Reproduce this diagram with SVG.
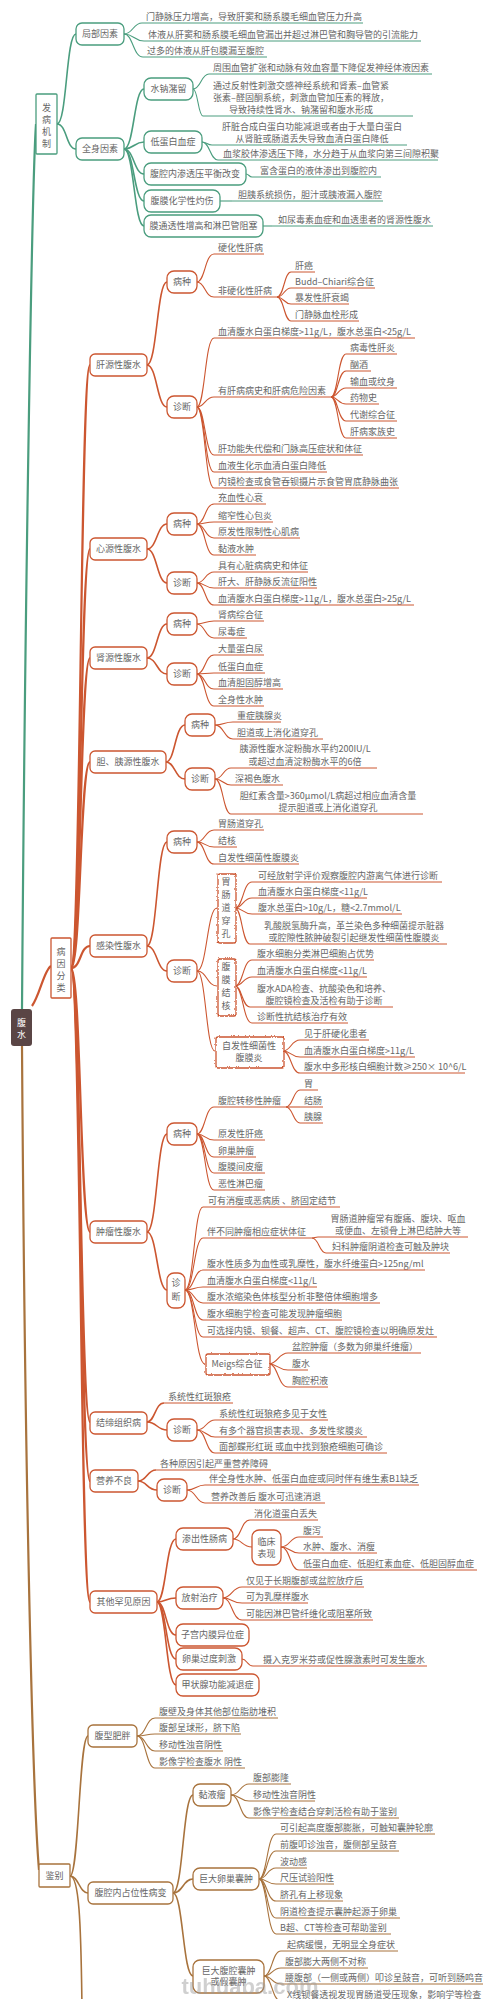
<svg xmlns="http://www.w3.org/2000/svg" width="500" height="1999" viewBox="0 0 500 1999">
<style>
text{font-family:"Noto Sans CJK SC","Liberation Sans",sans-serif;font-size:9px;fill:#666}
.m{text-anchor:middle}
path{fill:none}
.bx rect{fill:#fff;stroke-width:1.3}
.G rect,.G path,.cg{stroke:#4a9d7e}
.O rect,.O path,.co{stroke:#cc5630}
.B rect,.B path,.cb{stroke:#a8733d}
.lf path{stroke-width:1}
.wv rect{filter:url(#wv)}
#conn .cg,#conn .co,#conn .cb{stroke-width:1.1}
#conn .w1{stroke-width:2.2}
#conn .w2{stroke-width:1.6}
</style>
<defs>
<filter id="wv" x="-20%" y="-20%" width="140%" height="140%">
<feTurbulence type="turbulence" baseFrequency="0.45" numOctaves="1" seed="3" result="n"/>
<feDisplacementMap in="SourceGraphic" in2="n" scale="2.6" xChannelSelector="R" yChannelSelector="G"/>
</filter>
</defs>
<rect width="500" height="1999" fill="#fff"/>
<g id="conn">
<path class="cg w1" d="M22,1009 C25,600 32,180 36,124"/>
<path class="cg w2" d="M57,124 C67,124 66,34 76,34"/>
<path class="cg w2" d="M57,124 C67,124 66,149 76,149"/>
<path class="cg" d="M124,34 C133,34 133,23 142,23"/>
<path class="cg" d="M124,34 C134,34 134,41 144,41"/>
<path class="cg" d="M124,34 C133,34 133,57 143,57"/>
<path class="cg w2" d="M124,149 C134,149 134,89 144,89"/>
<path class="cg w2" d="M124,149 C134,149 134,142 144,142"/>
<path class="cg w2" d="M124,149 C134,149 134,174 144,174"/>
<path class="cg w2" d="M124,149 C134,149 134,201 144,201"/>
<path class="cg w2" d="M124,149 C134,149 134,226 144,226"/>
<path class="cg" d="M193,89 C201,89 201,74 209,74"/>
<path class="cg" d="M193,89 C198,89 198,116 203,116"/>
<path class="cg" d="M202,142 C207,142 207,145 212,145"/>
<path class="cg" d="M202,142 C210,142 210,160 218,160"/>
<path class="cg" d="M246,174 C249,174 249,177 252,177"/>
<path class="cg" d="M220,201 H232"/>
<path class="cg" d="M263,226 H272"/>

<path class="co w1" d="M32,1006 C40,995 44,970 51,966"/>
<path class="co w1" d="M71,968 C81,968 80,365 90,365"/>
<path class="co w1" d="M71,968 C81,968 80,549 90,549"/>
<path class="co w1" d="M71,968 C81,968 80,658 90,658"/>
<path class="co w1" d="M71,968 C81,968 80,762 90,762"/>
<path class="co w1" d="M71,968 C81,968 80,946 90,946"/>
<path class="co w1" d="M71,968 C81,968 80,1232 90,1232"/>
<path class="co w1" d="M71,968 C81,968 80,1422 90,1422"/>
<path class="co w1" d="M71,968 C81,968 80,1481 90,1481"/>
<path class="co w1" d="M71,968 C81,968 80,1602 90,1602"/>

<path class="co w2" d="M147,365 C157,365 157,282 167,282"/>
<path class="co w2" d="M147,365 C157,365 157,407 167,407"/>
<path class="co" d="M197,282 C205,282 205,254 214,254"/>
<path class="co" d="M197,282 C205,282 205,297 214,297"/>
<path class="co" d="M277,297 C284,297 284,272 291,272"/>
<path class="co" d="M277,297 C284,297 284,288 291,288"/>
<path class="co" d="M277,297 C284,297 284,304 291,304"/>
<path class="co" d="M277,297 C284,297 284,321 291,321"/>
<path class="co" d="M197,407 C205,407 205,338 214,338"/>
<path class="co" d="M197,407 C205,407 205,397 214,397"/>
<path class="co" d="M197,407 C205,407 205,455 214,455"/>
<path class="co" d="M197,407 C205,407 205,472 214,472"/>
<path class="co" d="M197,407 C205,407 205,488 214,488"/>
<path class="co" d="M331,397 C338,397 338,354 346,354"/>
<path class="co" d="M331,397 C338,397 338,371 346,371"/>
<path class="co" d="M331,397 C338,397 338,388 346,388"/>
<path class="co" d="M331,397 C338,397 338,404 346,404"/>
<path class="co" d="M331,397 C338,397 338,421 346,421"/>
<path class="co" d="M331,397 C338,397 338,438 346,438"/>

<path class="co w2" d="M147,549 C157,549 157,524 167,524"/>
<path class="co w2" d="M147,549 C157,549 157,583 167,583"/>
<path class="co" d="M197,524 C205,524 205,504 214,504"/>
<path class="co" d="M197,524 C205,524 205,522 214,522"/>
<path class="co" d="M197,524 C205,524 205,538 214,538"/>
<path class="co" d="M197,524 C205,524 205,555 214,555"/>
<path class="co" d="M197,583 C205,583 205,572 214,572"/>
<path class="co" d="M197,583 C205,583 205,588 214,588"/>
<path class="co" d="M197,583 C205,583 205,605 214,605"/>

<path class="co w2" d="M147,658 C157,658 157,624 167,624"/>
<path class="co w2" d="M147,658 C157,658 157,674 167,674"/>
<path class="co" d="M197,624 C205,624 205,621 214,621"/>
<path class="co" d="M197,624 C205,624 205,638 214,638"/>
<path class="co" d="M197,674 C205,674 205,655 214,655"/>
<path class="co" d="M197,674 C205,674 205,673 214,673"/>
<path class="co" d="M197,674 C205,674 205,689 214,689"/>
<path class="co" d="M197,674 C205,674 205,706 214,706"/>

<path class="co w2" d="M166,762 C175,762 175,725 185,725"/>
<path class="co w2" d="M166,762 C175,762 175,779 185,779"/>
<path class="co" d="M215,725 C224,725 224,722 233,722"/>
<path class="co" d="M215,725 C224,725 224,739 233,739"/>
<path class="co" d="M215,779 C223,779 223,768 231,768"/>
<path class="co" d="M215,779 C223,779 223,785 231,785"/>
<path class="co" d="M215,779 C223,779 223,814 231,814"/>

<path class="co w2" d="M147,946 C157,946 157,842 167,842"/>
<path class="co w2" d="M147,946 C157,946 157,971 167,971"/>
<path class="co" d="M197,842 C205,842 205,830 214,830"/>
<path class="co" d="M197,842 C205,842 205,847 214,847"/>
<path class="co" d="M197,842 C205,842 205,864 214,864"/>
<path class="co" d="M197,971 C207,971 207,908 217,908"/>
<path class="co" d="M197,971 C207,971 207,986 217,986"/>
<path class="co" d="M197,971 C206,971 206,1051 215,1051"/>
<path class="co" d="M235,908 C243,908 243,882 252,882"/>
<path class="co" d="M235,908 C243,908 243,898 252,898"/>
<path class="co" d="M235,908 C243,908 243,914 252,914"/>
<path class="co" d="M235,908 C242,908 242,944 250,944"/>
<path class="co" d="M235,986 C243,986 243,960 252,960"/>
<path class="co" d="M235,986 C243,986 243,977 252,977"/>
<path class="co" d="M235,986 C242,986 242,1007 250,1007"/>
<path class="co" d="M235,986 C243,986 243,1023 252,1023"/>
<path class="co" d="M283,1051 C291,1051 291,1040 300,1040"/>
<path class="co" d="M283,1051 C291,1051 291,1057 300,1057"/>
<path class="co" d="M283,1051 C291,1051 291,1073 300,1073"/>

<path class="co w2" d="M147,1232 C157,1232 157,1134 167,1134"/>
<path class="co w2" d="M147,1232 C157,1232 157,1290 167,1290"/>
<path class="co" d="M197,1134 C205,1134 205,1107 214,1107"/>
<path class="co" d="M197,1134 C205,1134 205,1140 214,1140"/>
<path class="co" d="M197,1134 C205,1134 205,1157 214,1157"/>
<path class="co" d="M197,1134 C205,1134 205,1173 214,1173"/>
<path class="co" d="M197,1134 C205,1134 205,1190 214,1190"/>
<path class="co" d="M286,1107 C293,1107 293,1090 300,1090"/>
<path class="co" d="M286,1107 H300"/>
<path class="co" d="M286,1107 C293,1107 293,1123 300,1123"/>
<path class="co" d="M185,1290 C194,1290 194,1207 203,1207"/>
<path class="co" d="M185,1290 C194,1290 194,1238 203,1238"/>
<path class="co" d="M185,1290 C194,1290 194,1270 203,1270"/>
<path class="co" d="M185,1290 C194,1290 194,1287 203,1287"/>
<path class="co" d="M185,1290 C194,1290 194,1303 203,1303"/>
<path class="co" d="M185,1290 C194,1290 194,1320 203,1320"/>
<path class="co" d="M185,1290 C194,1290 194,1337 203,1337"/>
<path class="co" d="M185,1290 C195,1290 195,1364 205,1364"/>
<path class="co" d="M312,1238 C315,1238 315,1237 318,1237"/>
<path class="co" d="M312,1238 C319,1238 319,1253 326,1253"/>
<path class="co" d="M269,1364 C278,1364 278,1353 288,1353"/>
<path class="co" d="M269,1364 C278,1364 278,1370 288,1370"/>
<path class="co" d="M269,1364 C278,1364 278,1387 288,1387"/>

<path class="co w2" d="M147,1422 C155,1422 155,1403 164,1403"/>
<path class="co w2" d="M147,1422 C157,1422 157,1430 167,1430"/>
<path class="co" d="M197,1430 C206,1430 206,1420 215,1420"/>
<path class="co" d="M197,1430 C206,1430 206,1437 215,1437"/>
<path class="co" d="M197,1430 C206,1430 206,1453 215,1453"/>

<path class="co w2" d="M138,1481 C147,1481 147,1470 156,1470"/>
<path class="co w2" d="M138,1481 C147,1481 147,1490 157,1490"/>
<path class="co" d="M187,1490 C196,1490 196,1485 205,1485"/>
<path class="co" d="M187,1490 C196,1490 196,1503 205,1503"/>

<path class="co w2" d="M157,1602 C166,1602 166,1539 176,1539"/>
<path class="co w2" d="M157,1602 C166,1602 166,1598 176,1598"/>
<path class="co w2" d="M157,1602 C166,1602 166,1635 176,1635"/>
<path class="co w2" d="M157,1602 C166,1602 166,1659 176,1659"/>
<path class="co w2" d="M157,1602 C166,1602 166,1685 176,1685"/>
<path class="co" d="M233,1539 C241,1539 241,1520 250,1520"/>
<path class="co" d="M233,1539 C242,1539 242,1547 252,1547"/>
<path class="co" d="M281,1547 C290,1547 290,1537 299,1537"/>
<path class="co" d="M281,1547 C290,1547 290,1553 299,1553"/>
<path class="co" d="M281,1547 C290,1547 290,1570 299,1570"/>
<path class="co" d="M223,1598 C232,1598 232,1587 242,1587"/>
<path class="co" d="M223,1598 C232,1598 232,1603 242,1603"/>
<path class="co" d="M223,1598 C232,1598 232,1620 242,1620"/>
<path class="co" d="M242,1659 C247,1659 247,1666 253,1666"/>

<path class="cb w1" d="M22,1046 C25,1500 33,1800 39,1870"/>
<path class="cb w2" d="M70,1876 C79,1876 79,1736 88,1736"/>
<path class="cb w2" d="M70,1876 C79,1876 79,1893 88,1893"/>
<path class="cb w2" d="M70,1876 C79,1876 81,1920 82,2010"/>
<path class="cb" d="M137,1736 C146,1736 146,1718 155,1718"/>
<path class="cb" d="M137,1736 C146,1736 146,1734 155,1734"/>
<path class="cb" d="M137,1736 C146,1736 146,1751 155,1751"/>
<path class="cb" d="M137,1736 C146,1736 146,1768 155,1768"/>
<path class="cb w2" d="M173,1893 C183,1893 183,1795 193,1795"/>
<path class="cb w2" d="M173,1893 C183,1893 183,1879 193,1879"/>
<path class="cb w2" d="M173,1893 C183,1893 183,1976 193,1976"/>
<path class="cb" d="M231,1795 C240,1795 240,1784 249,1784"/>
<path class="cb" d="M231,1795 C240,1795 240,1801 249,1801"/>
<path class="cb" d="M231,1795 C240,1795 240,1818 249,1818"/>
<path class="cb" d="M259,1879 C267,1879 267,1834 276,1834"/>
<path class="cb" d="M259,1879 C267,1879 267,1851 276,1851"/>
<path class="cb" d="M259,1879 C267,1879 267,1868 276,1868"/>
<path class="cb" d="M259,1879 C267,1879 267,1884 276,1884"/>
<path class="cb" d="M259,1879 C267,1879 267,1901 276,1901"/>
<path class="cb" d="M259,1879 C267,1879 267,1918 276,1918"/>
<path class="cb" d="M259,1879 C267,1879 267,1934 276,1934"/>
<path class="cb" d="M264,1976 C272,1976 272,1951 281,1951"/>
<path class="cb" d="M264,1976 C272,1976 272,1968 281,1968"/>
<path class="cb" d="M264,1976 C272,1976 272,1984 281,1984"/>
<path class="cb" d="M264,1976 C272,1976 272,2001 281,2001"/>
</g>

<g id="root"><rect x="11" y="1009" width="21" height="37" rx="3" fill="#5a4545"/><text class="m" x="21.5" style="fill:#fff"><tspan x="21.5" y="1025.5">腹</tspan><tspan x="21.5" y="1037.5">水</tspan></text></g>

<!-- green -->
<g id="fbjz" class="bx G"><rect x="36" y="94" width="21" height="60" rx="1"/><text class="m"><tspan x="46.5" y="110.5">发</tspan><tspan x="46.5" y="122.5">病</tspan><tspan x="46.5" y="134.5">机</tspan><tspan x="46.5" y="146.5">制</tspan></text></g>
<g id="jbys" class="bx G"><rect x="76" y="23" width="48" height="22" rx="6"/><text class="m" x="100" y="37.3">局部因素</text></g>
<g id="qsys" class="bx G"><rect x="76" y="138" width="48" height="22" rx="6"/><text class="m" x="100" y="152.3">全身因素</text></g>
<g id="snzl" class="bx G"><rect x="144" y="78" width="49" height="22" rx="7"/><text class="m" x="168.5" y="92.3">水钠潴留</text></g>
<g id="ddbxz" class="bx G"><rect x="144" y="131" width="58" height="22" rx="7"/><text class="m" x="173" y="145.3">低蛋白血症</text></g>
<g id="fqnstp" class="bx G"><rect x="144" y="163" width="102" height="22" rx="7"/><text class="m" x="195" y="177.3">腹腔内渗透压平衡改变</text></g>
<g id="fmhx" class="bx G"><rect x="144" y="190" width="76" height="22" rx="7"/><text class="m" x="182" y="204.3">腹膜化学性灼伤</text></g>
<g id="mttx" class="bx G"><rect x="144" y="215" width="119" height="22" rx="7"/><text class="m" x="203.5" y="229.3">膜通透性增高和淋巴管阻塞</text></g>
<g id="g1" class="lf G"><text x="146" y="20">门静脉压力增高，导致肝窦和肠系膜毛细血管压力升高</text><path d="M142,23 H363"/></g>
<g id="g2" class="lf G"><text x="148" y="38">体液从肝窦和肠系膜毛细血管漏出并超过淋巴管和胸导管的引流能力</text><path d="M144,41 H421"/></g>
<g id="g3" class="lf G"><text x="147" y="54">过多的体液从肝包膜漏至腹腔</text><path d="M143,57 H267"/></g>
<g id="g4" class="lf G"><text x="213" y="71">周围血管扩张和动脉有效血容量下降促发神经体液因素</text><path d="M209,74 H432"/></g>
<g id="g5" class="lf G"><text class="m"><tspan x="301" y="88.5">通过反射性刺激交感神经系统和肾素–血管紧</tspan><tspan x="301" y="100.5">张素–醛固酮系统，刺激血管加压素的释放，</tspan><tspan x="301" y="112.5">导致持续性肾水、钠潴留和腹水形成</tspan></text><path d="M203,116 H413"/></g>
<g id="g6" class="lf G"><text class="m"><tspan x="312" y="129.5">肝脏合成白蛋白功能减退或者由于大量白蛋白</tspan><tspan x="312" y="141.5">从肾脏或肠道丢失导致血清白蛋白降低</tspan></text><path d="M212,145 H407"/></g>
<g id="g7" class="lf G"><text x="223" y="157">血浆胶体渗透压下降，水分趋于从血浆向第三间隙积聚</text><path d="M218,160 H438"/></g>
<g id="g8" class="lf G"><text x="260" y="174">富含蛋白的液体渗出到腹腔内</text><path d="M252,177 H381"/></g>
<g id="g9" class="lf G"><text x="238" y="198">胆胰系统损伤，胆汁或胰液漏入腹腔</text><path d="M232,201 H383"/></g>
<g id="g10" class="lf G"><text x="278" y="223">如尿毒素血症和血透患者的肾源性腹水</text><path d="M272,226 H433"/></g>

<!-- orange boxes -->
<g id="byfl" class="bx O"><rect x="51" y="938" width="20" height="60" rx="1"/><text class="m"><tspan x="61" y="954.5">病</tspan><tspan x="61" y="966.5">因</tspan><tspan x="61" y="978.5">分</tspan><tspan x="61" y="990.5">类</tspan></text></g>
<g id="gy" class="bx O"><rect x="90" y="354" width="57" height="22" rx="5"/><text class="m" x="118.5" y="368.3">肝源性腹水</text></g>
<g id="gy_bz" class="bx O"><rect x="167" y="271" width="30" height="22" rx="7"/><text class="m" x="182" y="285.3">病种</text></g>
<g id="gy_zd" class="bx O"><rect x="167" y="396" width="30" height="22" rx="7"/><text class="m" x="182" y="410.3">诊断</text></g>
<g id="xy" class="bx O"><rect x="90" y="538" width="57" height="22" rx="5"/><text class="m" x="118.5" y="552.3">心源性腹水</text></g>
<g id="xy_bz" class="bx O"><rect x="167" y="513" width="30" height="22" rx="7"/><text class="m" x="182" y="527.3">病种</text></g>
<g id="xy_zd" class="bx O"><rect x="167" y="572" width="30" height="22" rx="7"/><text class="m" x="182" y="586.3">诊断</text></g>
<g id="sy" class="bx O"><rect x="90" y="647" width="57" height="22" rx="5"/><text class="m" x="118.5" y="661.3">肾源性腹水</text></g>
<g id="sy_bz" class="bx O"><rect x="167" y="613" width="30" height="22" rx="7"/><text class="m" x="182" y="627.3">病种</text></g>
<g id="sy_zd" class="bx O"><rect x="167" y="663" width="30" height="22" rx="7"/><text class="m" x="182" y="677.3">诊断</text></g>
<g id="dy" class="bx O"><rect x="90" y="751" width="76" height="22" rx="5"/><text class="m" x="128" y="765.3">胆、胰源性腹水</text></g>
<g id="dy_bz" class="bx O"><rect x="185" y="714" width="30" height="22" rx="7"/><text class="m" x="200" y="728.3">病种</text></g>
<g id="dy_zd" class="bx O"><rect x="185" y="768" width="30" height="22" rx="7"/><text class="m" x="200" y="782.3">诊断</text></g>
<g id="gr" class="bx O"><rect x="90" y="935" width="57" height="22" rx="5"/><text class="m" x="118.5" y="949.3">感染性腹水</text></g>
<g id="gr_bz" class="bx O"><rect x="167" y="831" width="30" height="22" rx="7"/><text class="m" x="182" y="845.3">病种</text></g>
<g id="gr_zd" class="bx O"><rect x="167" y="960" width="30" height="22" rx="7"/><text class="m" x="182" y="974.3">诊断</text></g>
<g id="wcdck" class="bx O wv"><rect x="217" y="873" width="18" height="69" rx="2"/><text class="m"><tspan x="226" y="885.3">胃</tspan><tspan x="226" y="898.3">肠</tspan><tspan x="226" y="911.3">道</tspan><tspan x="226" y="924.3">穿</tspan><tspan x="226" y="937.3">孔</tspan></text></g>
<g id="fmjh" class="bx O wv"><rect x="217" y="958" width="18" height="57" rx="2"/><text class="m"><tspan x="226" y="970.3">腹</tspan><tspan x="226" y="983.3">膜</tspan><tspan x="226" y="996.3">结</tspan><tspan x="226" y="1009.3">核</tspan></text></g>
<g id="zfx" class="bx O wv"><rect x="215" y="1036" width="68" height="31" rx="2"/><text class="m"><tspan x="249" y="1048.5">自发性细菌性</tspan><tspan x="249" y="1060.5">腹膜炎</tspan></text></g>
<g id="zl" class="bx O"><rect x="90" y="1221" width="57" height="22" rx="5"/><text class="m" x="118.5" y="1235.3">肿瘤性腹水</text></g>
<g id="zl_bz" class="bx O"><rect x="167" y="1123" width="30" height="22" rx="7"/><text class="m" x="182" y="1137.3">病种</text></g>
<g id="zl_zd" class="bx O"><rect x="167" y="1273" width="18" height="35" rx="7"/><text class="m"><tspan x="176" y="1286.3">诊</tspan><tspan x="176" y="1300.3">断</tspan></text></g>
<g id="meigs" class="bx O wv"><rect x="205" y="1353" width="64" height="21" rx="2"/><text class="m" x="237" y="1367.3">Meigs综合征</text></g>
<g id="jd" class="bx O"><rect x="90" y="1412" width="57" height="22" rx="5"/><text class="m" x="118.5" y="1426.3">结缔组织病</text></g>
<g id="jd_zd" class="bx O"><rect x="167" y="1419" width="30" height="22" rx="7"/><text class="m" x="182" y="1433.3">诊断</text></g>
<g id="yy" class="bx O"><rect x="90" y="1470" width="48" height="22" rx="5"/><text class="m" x="114" y="1484.3">营养不良</text></g>
<g id="yy_zd" class="bx O"><rect x="157" y="1479" width="30" height="22" rx="7"/><text class="m" x="172" y="1493.3">诊断</text></g>
<g id="qt" class="bx O"><rect x="90" y="1591" width="67" height="22" rx="5"/><text class="m" x="123.5" y="1605.3">其他罕见原因</text></g>
<g id="scx" class="bx O"><rect x="176" y="1528" width="57" height="22" rx="7"/><text class="m" x="204.5" y="1542.3">渗出性肠病</text></g>
<g id="lcbx" class="bx O"><rect x="252" y="1530" width="29" height="35" rx="7"/><text class="m"><tspan x="266.5" y="1545.3">临床</tspan><tspan x="266.5" y="1557.3">表现</tspan></text></g>
<g id="fszl" class="bx O"><rect x="176" y="1587" width="47" height="22" rx="7"/><text class="m" x="199.5" y="1601.3">放射治疗</text></g>
<g id="zgnm" class="bx O"><rect x="176" y="1624" width="73" height="22" rx="7"/><text class="m" x="212.5" y="1638.3">子宫内膜异位症</text></g>
<g id="lcgd" class="bx O"><rect x="176" y="1648" width="66" height="22" rx="7"/><text class="m" x="209" y="1662.3">卵巢过度刺激</text></g>
<g id="jzx" class="bx O"><rect x="176" y="1674" width="83" height="22" rx="7"/><text class="m" x="217.5" y="1688.3">甲状腺功能减退症</text></g>

<!-- orange leaves -->
<g id="o1" class="lf O"><text x="218" y="251">硬化性肝病</text><path d="M214,254 H264"/></g>
<g id="o2" class="lf O"><text x="218" y="294">非硬化性肝病</text><path d="M214,297 H277"/></g>
<g id="o3" class="lf O"><text x="295" y="269">肝癌</text><path d="M291,272 H315"/></g>
<g id="o4" class="lf O"><text x="295" y="285">Budd–Chiari综合征</text><path d="M291,288 H375"/></g>
<g id="o5" class="lf O"><text x="295" y="301">暴发性肝衰竭</text><path d="M291,304 H349"/></g>
<g id="o6" class="lf O"><text x="295" y="318">门静脉血栓形成</text><path d="M291,321 H359"/></g>
<g id="o7" class="lf O"><text x="218" y="335">血清腹水白蛋白梯度&gt;11g/L，腹水总蛋白&lt;25g/L</text><path d="M214,338 H415"/></g>
<g id="o8" class="lf O"><text x="218" y="394">有肝病病史和肝病危险因素</text><path d="M214,397 H331"/></g>
<g id="o9" class="lf O"><text x="350" y="351">病毒性肝炎</text><path d="M346,354 H397"/></g>
<g id="o10" class="lf O"><text x="350" y="368">酗酒</text><path d="M346,371 H371"/></g>
<g id="o11" class="lf O"><text x="350" y="385">输血或纹身</text><path d="M346,388 H397"/></g>
<g id="o12" class="lf O"><text x="350" y="401">药物史</text><path d="M346,404 H379"/></g>
<g id="o13" class="lf O"><text x="350" y="418">代谢综合征</text><path d="M346,421 H397"/></g>
<g id="o14" class="lf O"><text x="350" y="435">肝病家族史</text><path d="M346,438 H397"/></g>
<g id="o15" class="lf O"><text x="218" y="452">肝功能失代偿和门脉高压症状和体征</text><path d="M214,455 H363"/></g>
<g id="o16" class="lf O"><text x="218" y="469">血液生化示血清白蛋白降低</text><path d="M214,472 H327"/></g>
<g id="o17" class="lf O"><text x="218" y="485">内镜检查或食管吞钡摄片示食管胃底静脉曲张</text><path d="M214,488 H399"/></g>
<g id="o18" class="lf O"><text x="218" y="501">充血性心衰</text><path d="M214,504 H266"/></g>
<g id="o19" class="lf O"><text x="218" y="519">缩窄性心包炎</text><path d="M214,522 H273"/></g>
<g id="o20" class="lf O"><text x="218" y="535">原发性限制性心肌病</text><path d="M214,538 H300"/></g>
<g id="o21" class="lf O"><text x="218" y="552">黏液水肿</text><path d="M214,555 H256"/></g>
<g id="o22" class="lf O"><text x="218" y="569">具有心脏病病史和体征</text><path d="M214,572 H308"/></g>
<g id="o23" class="lf O"><text x="218" y="585">肝大、肝静脉反流征阳性</text><path d="M214,588 H317"/></g>
<g id="o24" class="lf O"><text x="218" y="602">血清腹水白蛋白梯度&gt;11g/L，腹水总蛋白&gt;25g/L</text><path d="M214,605 H414"/></g>
<g id="o25" class="lf O"><text x="218" y="618">肾病综合征</text><path d="M214,621 H264"/></g>
<g id="o26" class="lf O"><text x="218" y="635">尿毒症</text><path d="M214,638 H247"/></g>
<g id="o27" class="lf O"><text x="218" y="652">大量蛋白尿</text><path d="M214,655 H264"/></g>
<g id="o28" class="lf O"><text x="218" y="670">低蛋白血症</text><path d="M214,673 H265"/></g>
<g id="o29" class="lf O"><text x="218" y="686">血清胆固醇增高</text><path d="M214,689 H283"/></g>
<g id="o30" class="lf O"><text x="218" y="703">全身性水肿</text><path d="M214,706 H264"/></g>
<g id="o31" class="lf O"><text x="237" y="719">重症胰腺炎</text><path d="M233,722 H281"/></g>
<g id="o32" class="lf O"><text x="237" y="736">胆道或上消化道穿孔</text><path d="M233,739 H323"/></g>
<g id="o33" class="lf O"><text class="m"><tspan x="305" y="752.3">胰源性腹水淀粉酶水平约200IU/L</tspan><tspan x="305" y="765">或超过血清淀粉酶水平的6倍</tspan></text><path d="M231,768 H377"/></g>
<g id="o34" class="lf O"><text x="235" y="782">深褐色腹水</text><path d="M231,785 H283"/></g>
<g id="o35" class="lf O"><text class="m"><tspan x="328" y="799">胆红素含量&gt;360μmol/L病超过相应血清含量</tspan><tspan x="328" y="811">提示胆道或上消化道穿孔</tspan></text><path d="M231,814 H423"/></g>
<g id="o36" class="lf O"><text x="218" y="827">胃肠道穿孔</text><path d="M214,830 H264"/></g>
<g id="o37" class="lf O"><text x="218" y="844">结核</text><path d="M214,847 H237"/></g>
<g id="o38" class="lf O"><text x="218" y="861">自发性细菌性腹膜炎</text><path d="M214,864 H299"/></g>
<g id="o39" class="lf O"><text x="258" y="879">可经放射学评价观察腹腔内游离气体进行诊断</text><path d="M252,882 H442"/></g>
<g id="o40" class="lf O"><text x="258" y="895">血清腹水白蛋白梯度&lt;11g/L</text><path d="M252,898 H367"/></g>
<g id="o41" class="lf O"><text x="258" y="911">腹水总蛋白&gt;10g/L，糖&lt;2.7mmol/L</text><path d="M252,914 H402"/></g>
<g id="o42" class="lf O"><text class="m"><tspan x="354" y="928.5">乳酸脱氢酶升高，革兰染色多种细菌提示脏器</tspan><tspan x="354" y="941">或腔隙性脓肿破裂引起继发性细菌性腹膜炎</tspan></text><path d="M250,944 H447"/></g>
<g id="o43" class="lf O"><text x="257" y="957">腹水细胞分类淋巴细胞占优势</text><path d="M252,960 H374"/></g>
<g id="o44" class="lf O"><text x="257" y="974">血清腹水白蛋白梯度&lt;11g/L</text><path d="M252,977 H367"/></g>
<g id="o45" class="lf O"><text class="m"><tspan x="324" y="991.5">腹水ADA检查、抗酸染色和培养、</tspan><tspan x="324" y="1004">腹腔镜检查及活检有助于诊断</tspan></text><path d="M250,1007 H393"/></g>
<g id="o46" class="lf O"><text x="257" y="1020">诊断性抗结核治疗有效</text><path d="M252,1023 H348"/></g>
<g id="o47" class="lf O"><text x="304" y="1037">见于肝硬化患者</text><path d="M300,1040 H369"/></g>
<g id="o48" class="lf O"><text x="304" y="1054">血清腹水白蛋白梯度&gt;11g/L</text><path d="M300,1057 H415"/></g>
<g id="o49" class="lf O"><text x="304" y="1070">腹水中多形核白细胞计数≥250× 10^6/L</text><path d="M300,1073 H465"/></g>
<g id="o50" class="lf O"><text x="218" y="1104">腹腔转移性肿瘤</text><path d="M214,1107 H286"/></g>
<g id="o51" class="lf O"><text x="304" y="1087">胃</text><path d="M300,1090 H318"/></g>
<g id="o52" class="lf O"><text x="304" y="1104">结肠</text><path d="M300,1107 H323"/></g>
<g id="o53" class="lf O"><text x="304" y="1120">胰腺</text><path d="M300,1123 H323"/></g>
<g id="o54" class="lf O"><text x="218" y="1137">原发性肝癌</text><path d="M214,1140 H265"/></g>
<g id="o55" class="lf O"><text x="218" y="1154">卵巢肿瘤</text><path d="M214,1157 H256"/></g>
<g id="o56" class="lf O"><text x="218" y="1170">腹膜间皮瘤</text><path d="M214,1173 H265"/></g>
<g id="o57" class="lf O"><text x="218" y="1187">恶性淋巴瘤</text><path d="M214,1190 H265"/></g>
<g id="o58" class="lf O"><text x="208" y="1204">可有消瘦或恶病质 、脐固定结节</text><path d="M203,1207 H340"/></g>
<g id="o59" class="lf O"><text x="207" y="1235">伴不同肿瘤相应症状体征</text><path d="M203,1238 H312"/></g>
<g id="o60" class="lf O"><text class="m"><tspan x="398" y="1221.5">胃肠道肿瘤常有腹痛、腹块、呕血</tspan><tspan x="398" y="1234">或便血、左锁骨上淋巴结肿大等</tspan></text><path d="M318,1237 H468"/></g>
<g id="o61" class="lf O"><text x="332" y="1250">妇科肿瘤阴道检查可触及肿块</text><path d="M326,1253 H450"/></g>
<g id="o62" class="lf O"><text x="207" y="1267">腹水性质多为血性或乳糜性，腹水纤维蛋白&gt;125ng/ml</text><path d="M203,1270 H425"/></g>
<g id="o63" class="lf O"><text x="207" y="1284">血清腹水白蛋白梯度&lt;11g/L</text><path d="M203,1287 H317"/></g>
<g id="o64" class="lf O"><text x="207" y="1300">腹水浓缩染色体核型分析非整倍体细胞增多</text><path d="M203,1303 H380"/></g>
<g id="o65" class="lf O"><text x="207" y="1317">腹水细胞学检查可能发现肿瘤细胞</text><path d="M203,1320 H342"/></g>
<g id="o66" class="lf O"><text x="207" y="1334">可选择内镜、钡餐、超声、CT、腹腔镜检查以明确原发灶</text><path d="M203,1337 H437"/></g>
<g id="o67" class="lf O"><text x="292" y="1350">盆腔肿瘤（多数为卵巢纤维瘤）</text><path d="M288,1353 H421"/></g>
<g id="o68" class="lf O"><text x="292" y="1367">腹水</text><path d="M288,1370 H308"/></g>
<g id="o69" class="lf O"><text x="292" y="1384">胸腔积液</text><path d="M288,1387 H328"/></g>
<g id="o70" class="lf O"><text x="168" y="1400">系统性红斑狼疮</text><path d="M164,1403 H233"/></g>
<g id="o71" class="lf O"><text x="219" y="1417">系统性红斑狼疮多见于女性</text><path d="M215,1420 H328"/></g>
<g id="o72" class="lf O"><text x="219" y="1434">有多个器官损害表现、多发性浆膜炎</text><path d="M215,1437 H367"/></g>
<g id="o73" class="lf O"><text x="219" y="1450">面部蝶形红斑 或血中找到狼疮细胞可确诊</text><path d="M215,1453 H387"/></g>
<g id="o74" class="lf O"><text x="160" y="1467">各种原因引起严重营养障碍</text><path d="M156,1470 H271"/></g>
<g id="o75" class="lf O"><text x="209" y="1482">伴全身性水肿、低蛋白血症或同时伴有维生素B1缺乏</text><path d="M205,1485 H419"/></g>
<g id="o76" class="lf O"><text x="211" y="1500">营养改善后 腹水可迅速消退</text><path d="M205,1503 H325"/></g>
<g id="o77" class="lf O"><text x="254" y="1517">消化道蛋白丢失</text><path d="M250,1520 H318"/></g>
<g id="o78" class="lf O"><text x="303" y="1534">腹泻</text><path d="M299,1537 H323"/></g>
<g id="o79" class="lf O"><text x="303" y="1550">水肿、腹水、消瘦</text><path d="M299,1553 H377"/></g>
<g id="o80" class="lf O"><text x="303" y="1567">低蛋白血症、低胆红素血症、低胆固醇血症</text><path d="M299,1570 H477"/></g>
<g id="o81" class="lf O"><text x="246" y="1584">仅见于长期腹部或盆腔放疗后</text><path d="M242,1587 H364"/></g>
<g id="o82" class="lf O"><text x="246" y="1600">可为乳糜样腹水</text><path d="M242,1603 H308"/></g>
<g id="o83" class="lf O"><text x="246" y="1617">可能因淋巴管纤维化或阻塞所致</text><path d="M242,1620 H373"/></g>
<g id="o84" class="lf O"><text x="263" y="1663">摄入克罗米芬或促性腺激素时可发生腹水</text><path d="M253,1666 H427"/></g>

<!-- brown -->
<g id="jb" class="bx B"><rect x="39" y="1864" width="31" height="23" rx="1"/><text class="m" x="54.5" y="1879">鉴别</text></g>
<g id="fxfp" class="bx B"><rect x="88" y="1725" width="49" height="22" rx="5"/><text class="m" x="112.5" y="1739.3">腹型肥胖</text></g>
<g id="fqnzw" class="bx B"><rect x="88" y="1882" width="85" height="22" rx="5"/><text class="m" x="130.5" y="1896.3">腹腔内占位性病变</text></g>
<g id="nyl" class="bx B"><rect x="193" y="1784" width="38" height="22" rx="7"/><text class="m" x="212" y="1798.3">黏液瘤</text></g>
<g id="jdlc" class="bx B"><rect x="193" y="1868" width="66" height="22" rx="7"/><text class="m" x="226" y="1882.3">巨大卵巢囊肿</text></g>
<g id="jdfq" class="bx B"><rect x="193" y="1960" width="71" height="33" rx="7"/><text class="m"><tspan x="228.5" y="1973.5">巨大腹腔囊肿</tspan><tspan x="228.5" y="1985">或假囊肿</tspan></text></g>
<g id="b1" class="lf B"><text x="159" y="1715">腹壁及身体其他部位脂肪堆积</text><path d="M155,1718 H278"/></g>
<g id="b2" class="lf B"><text x="159" y="1731">腹部呈球形，脐下陷</text><path d="M155,1734 H241"/></g>
<g id="b3" class="lf B"><text x="159" y="1748">移动性浊音阴性</text><path d="M155,1751 H223"/></g>
<g id="b4" class="lf B"><text x="159" y="1765">影像学检查腹水 阴性</text><path d="M155,1768 H245"/></g>
<g id="b5" class="lf B"><text x="253" y="1781">腹部膨隆</text><path d="M249,1784 H291"/></g>
<g id="b6" class="lf B"><text x="253" y="1798">移动性浊音阴性</text><path d="M249,1801 H315"/></g>
<g id="b7" class="lf B"><text x="253" y="1815">影像学检查结合穿刺活检有助于鉴别</text><path d="M249,1818 H399"/></g>
<g id="b8" class="lf B"><text x="280" y="1831">可引起高度腹部膨胀，可触知囊肿轮廓</text><path d="M276,1834 H435"/></g>
<g id="b9" class="lf B"><text x="280" y="1848">前腹叩诊浊音，腹侧部呈鼓音</text><path d="M276,1851 H399"/></g>
<g id="b10" class="lf B"><text x="280" y="1865">波动感</text><path d="M276,1868 H307"/></g>
<g id="b11" class="lf B"><text x="280" y="1881">尺压试验阳性</text><path d="M276,1884 H334"/></g>
<g id="b12" class="lf B"><text x="280" y="1898">脐孔有上移现象</text><path d="M276,1901 H343"/></g>
<g id="b13" class="lf B"><text x="280" y="1915">阴道检查提示囊肿起源于卵巢</text><path d="M276,1918 H400"/></g>
<g id="b14" class="lf B"><text x="280" y="1931">B超、CT等检查可帮助鉴别</text><path d="M276,1934 H391"/></g>
<g id="b15" class="lf B"><text x="287" y="1948">起病缓慢，无明显全身症状</text><path d="M281,1951 H398"/></g>
<g id="b16" class="lf B"><text x="285" y="1965">腹部膨大两侧不对称</text><path d="M281,1968 H368"/></g>
<g id="b17" class="lf B"><text x="285" y="1981">腰腹部（一侧或两侧）叩诊呈鼓音，可听到肠鸣音</text><path d="M281,1984 H483"/></g>
<g id="b18" class="lf B"><text x="287" y="1998">X线钡餐透视发现胃肠道受压现象，影响学等检查</text><path d="M281,2001 H490"/></g>

<text x="250" y="1994" class="m" style="font-family:'Liberation Sans',sans-serif;font-size:22px;font-weight:bold;fill:#999;opacity:0.45">tuhuaba.com</text>
</svg>
